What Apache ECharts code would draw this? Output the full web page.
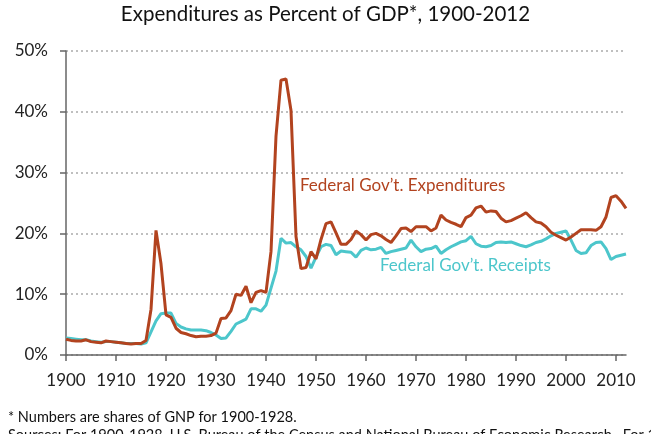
<!DOCTYPE html>
<html>
<head>
<meta charset="utf-8">
<script src="https://cdn.jsdelivr.net/npm/echarts@6/dist/echarts.min.js"></script>
<style>
html,body{margin:0;padding:0;background:#fff;}
#chart{width:651px;height:434px;}
</style>
</head>
<body>
<div id="chart"></div>
<script>
var years = [];
for (var y = 1900; y <= 2012; y++) years.push(y);

var expenditures = [
  2.6, 2.4, 2.3, 2.3, 2.5, 2.2, 2.1, 2.0, 2.3, 2.2,
  2.1, 2.0, 1.9, 1.8, 1.9, 1.9, 2.4, 7.5, 20.5, 15.0,
  6.6, 6.2, 4.4, 3.7, 3.5, 3.2, 3.0, 3.1, 3.1, 3.2,
  3.6, 6.0, 6.1, 7.3, 10.0, 9.8, 11.3, 8.6, 10.3, 10.6,
  10.3, 17.0, 36.0, 45.2, 45.4, 40.2, 19.5, 14.2, 14.4, 17.0,
  15.8, 19.0, 21.6, 21.9, 20.1, 18.2, 18.2, 19.0, 20.4, 19.8,
  18.9, 19.8, 20.0, 19.6, 19.0, 18.5, 19.6, 20.8, 20.9, 20.3,
  21.1, 21.1, 21.1, 20.4, 20.9, 23.0, 22.2, 21.8, 21.5, 21.1,
  22.6, 23.0, 24.2, 24.5, 23.5, 23.7, 23.6, 22.5, 21.9, 22.1,
  22.5, 22.9, 23.4, 22.6, 21.9, 21.7, 21.1, 20.2, 19.7, 19.3,
  18.9, 19.4, 20.0, 20.6, 20.6, 20.6, 20.5, 21.1, 22.7, 25.9,
  26.2, 25.3, 24.1
];

var receipts = [
  2.8, 2.7, 2.6, 2.5, 2.5, 2.3, 2.2, 2.1, 2.2, 2.2,
  2.1, 2.0, 1.9, 1.9, 1.9, 1.8, 2.0, 3.8, 5.6, 6.8,
  6.9, 6.9, 5.2, 4.6, 4.3, 4.1, 4.1, 4.1, 4.0, 3.7,
  3.3, 2.7, 2.8, 3.9, 5.1, 5.5, 5.9, 7.6, 7.6, 7.2,
  8.2, 11.0, 13.8, 19.2, 18.4, 18.5, 17.8, 17.3, 16.2, 14.3,
  16.1, 17.8, 18.2, 18.0, 16.5, 17.1, 17.0, 16.9, 16.1, 17.2,
  17.6, 17.3, 17.4, 17.7, 16.7, 17.0, 17.2, 17.4, 17.6, 18.9,
  17.8, 17.0, 17.4, 17.5, 17.9, 16.7, 17.3, 17.8, 18.2, 18.6,
  18.8, 19.5, 18.3, 17.9, 17.8, 18.0, 18.5, 18.6, 18.5, 18.6,
  18.3, 18.0, 17.8, 18.1, 18.5, 18.7, 19.1, 19.6, 20.0, 20.2,
  20.4, 18.9, 17.2, 16.7, 16.8, 18.0, 18.5, 18.6, 17.5, 15.7,
  16.2, 16.4, 16.6
];

var xTicks = [1900, 1910, 1920, 1930, 1940, 1950, 1960, 1970, 1980, 1990, 2000, 2010];
var yTicks = [0, 10, 20, 30, 40, 50];

var titleText = 'Expenditures as Percent of GDP*, 1900-2012';
var expLabel = 'Federal Gov\u2019t. Expenditures';
var recLabel = 'Federal Gov\u2019t. Receipts';
var note1 = '* Numbers are shares of GNP for 1900-1928.';
var note2 = 'Sources: For 1900-1928, U.S. Bureau of the Census and National Bureau of Economic Research.  For 1929-2012,';

function pairs(vals) {
  return years.map(function (yr, i) { return [yr, vals[i]]; });
}

var FONT = 'Lato';
var RED = '#b2431f';
var TEAL = '#4cc6cb';

var chart = echarts.init(document.getElementById('chart'), null, {renderer: 'canvas'});
chart.setOption({
  animation: false,
  backgroundColor: '#ffffff',
  textStyle: {fontFamily: FONT},
  grid: {left: 66, right: 25, top: 51, bottom: 79, containLabel: false},
  xAxis: {
    type: 'value',
    min: 1900, max: 2012, interval: 10,
    axisLine: {show: true, lineStyle: {color: '#666', width: 1.5}},
    axisTick: {show: true, length: 6, lineStyle: {color: '#666', width: 1.5}, customValues: xTicks},
    axisLabel: {color: '#222', fontSize: 17, fontFamily: FONT, margin: 17, customValues: xTicks,
      formatter: function (v) { return String(v); }},
    splitLine: {show: false}
  },
  yAxis: {
    type: 'value',
    min: 0, max: 50, interval: 10,
    axisLine: {show: true, lineStyle: {color: '#666', width: 1.5}},
    axisTick: {show: true, length: 6, lineStyle: {color: '#666', width: 1.5}, customValues: yTicks},
    axisLabel: {color: '#222', fontSize: 17, fontFamily: FONT, margin: 18, customValues: yTicks,
      formatter: function (v) { return v + '%'; }},
    splitLine: {show: true, lineStyle: {color: '#aaaaaa', type: [2, 3], width: 1.5}}
  },
  series: [
    {
      name: 'Receipts', type: 'line', data: pairs(receipts),
      showSymbol: false, symbol: 'none',
      lineStyle: {color: TEAL, width: 3}, itemStyle: {color: TEAL}, z: 2
    },
    {
      name: 'Expenditures', type: 'line', data: pairs(expenditures),
      showSymbol: false, symbol: 'none',
      lineStyle: {color: RED, width: 3}, itemStyle: {color: RED}, z: 3
    }
  ],
  graphic: [
    {type: 'text', left: 'center', top: 4, style: {text: titleText, fontSize: 20.5, fontFamily: FONT, fill: '#111'}},
    {type: 'text', left: 300, top: 177, style: {text: expLabel, fontSize: 17, fontFamily: FONT, fill: RED}},
    {type: 'text', left: 380, top: 257, style: {text: recLabel, fontSize: 17, fontFamily: FONT, fill: TEAL}},
    {type: 'text', left: 8, top: 410, style: {text: note1, fontSize: 14.5, fontFamily: FONT, fill: '#111'}},
    {type: 'text', left: 8, top: 428, style: {text: note2, fontSize: 14.5, fontFamily: FONT, fill: '#111'}}
  ]
});
</script>
</body>
</html>
